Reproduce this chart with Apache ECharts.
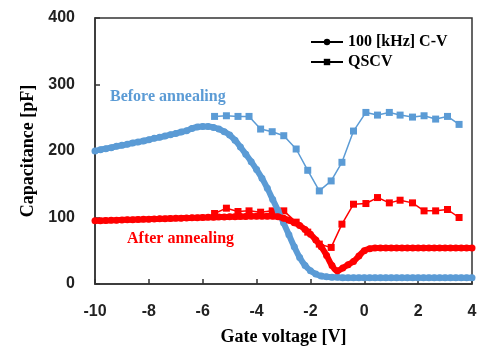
<!DOCTYPE html>
<html>
<head>
<meta charset="utf-8">
<script src="https://cdn.jsdelivr.net/npm/echarts@6/dist/echarts.min.js"></script>
<style>
html, body { margin: 0; padding: 0; background: #fff; }
#chart { width: 482px; height: 351px; }
</style>
</head>
<body>
<div id="chart"></div>
<script>
// gate voltage for the 100 kHz C-V sweep, 0.2 V steps
var cvVoltage = [];
for (var i = 0; i <= 70; i++) cvVoltage.push(+(-10 + i * 0.2).toFixed(1));

var cvBefore = [200, 202, 203.5, 205, 207, 208.5, 210, 212, 213.5, 215,
    217, 219, 220.5, 222.5, 224.5, 226.5, 228.5, 230.5, 234, 236,
    237, 237, 235.5, 233, 229, 224, 216, 206, 195, 184,
    172, 159, 144, 127, 110, 92, 74, 56, 40, 28,
    20, 15, 12, 11, 10, 10, 9.5, 9.5, 9.5, 9.5,
    9.5, 9.5, 9.5, 9.5, 9.5, 9.5, 9.5, 9.5, 9.5, 9.5,
    9.5, 9.5, 9.5, 9.5, 9.5, 9.5, 9.5, 9.5, 9.5, 9.5, 9.5];

var cvAfter = [95, 95.2, 95.5, 95.8, 96, 96.3, 96.6, 96.8, 97, 97.3,
    97.5, 97.8, 98, 98.2, 98.5, 98.7, 99, 99.2, 99.5, 99.7,
    100, 100.2, 100.4, 100.6, 100.8, 101, 101.2, 101.4, 101.6, 101.8,
    102, 102, 102, 102, 101, 99, 96, 92, 88, 82,
    75, 66, 56, 43, 28, 20, 24, 29, 34, 42,
    50, 53, 54, 54, 54, 54, 54, 54, 54, 54,
    54, 54, 54, 54, 54, 54, 54, 54, 54, 54, 54];

// quasi-static C-V points
var qsVoltage = [-5.56, -5.12, -4.69, -4.28, -3.85, -3.42, -2.99, -2.53, -2.1, -1.67, -1.23,
    -0.83, -0.4, 0.06, 0.49, 0.93, 1.33, 1.79, 2.22, 2.65, 3.09, 3.52];
var qsBefore = [252, 253, 252, 252, 233, 229, 223, 203, 171, 140, 155,
    183, 230, 258, 254, 258, 254, 251, 253, 248, 252, 240];
var qsAfter = [106, 114, 109, 110, 108, 110, 110, 93, 78, 60, 55,
    90, 120, 121, 130, 122, 126, 122, 110, 110, 112, 100];

var xTicks = [-10, -8, -6, -4, -2, 0, 2, 4];
var yTicks = [0, 100, 200, 300, 400];

var blue = '#5B9BD5';
var red = '#FF0000';

function pairs(xs, ys) {
    return xs.map(function (x, k) { return [x, ys[k]]; });
}

var myChart = echarts.init(document.getElementById('chart'));

var option = {
    animation: false,
    grid: {
        left: 95,
        right: 10,
        top: 18,
        bottom: 67,
        show: true,
        borderColor: '#333',
        borderWidth: 1.5
    },
    legend: {
        orient: 'vertical',
        left: 305,
        top: 29,
        itemWidth: 32,
        itemHeight: 8,
        itemGap: 4,
        textStyle: {
            fontFamily: 'Liberation Serif',
            fontWeight: 'bold',
            fontSize: 16,
            color: '#000'
        },
        data: ['100 [kHz] C-V', 'QSCV']
    },
    xAxis: {
        type: 'value',
        min: -10,
        max: 4,
        interval: 2,
        splitLine: {show: false},
        axisLine: {onZero: false, lineStyle: {color: '#333', width: 1.5}},
        axisTick: {inside: true, length: 5, lineStyle: {color: '#333', width: 1.5}},
        axisLabel: {
            margin: 20,
            fontFamily: 'Liberation Sans',
            fontWeight: 'bold',
            fontSize: 16,
            color: '#222',
            formatter: function (v) { return xTicks.indexOf(v) >= 0 ? String(v) : ''; }
        },
        name: 'Gate voltage [V]',
        nameLocation: 'middle',
        nameGap: 44,
        nameTextStyle: {
            fontFamily: 'Liberation Serif',
            fontWeight: 'bold',
            fontSize: 18,
            color: '#000'
        }
    },
    yAxis: {
        type: 'value',
        min: 0,
        max: 400,
        interval: 100,
        splitLine: {show: false},
        axisLine: {onZero: false, lineStyle: {color: '#333', width: 1.5}},
        axisTick: {inside: true, length: 5, lineStyle: {color: '#333', width: 1.5}},
        axisLabel: {
            margin: 20,
            fontFamily: 'Liberation Sans',
            fontWeight: 'bold',
            fontSize: 16,
            color: '#222',
            formatter: function (v) { return yTicks.indexOf(v) >= 0 ? String(v) : ''; }
        },
        name: 'Capacitance [pF]',
        nameLocation: 'middle',
        nameGap: 54,
        nameTextStyle: {
            fontFamily: 'Liberation Serif',
            fontWeight: 'bold',
            fontSize: 18,
            color: '#000'
        }
    },
    graphic: [
        {
            type: 'text',
            left: 110,
            top: 89,
            style: {
                text: 'Before annealing',
                fill: blue,
                font: 'bold 16px "Liberation Serif"'
            }
        },
        {
            type: 'text',
            left: 127,
            top: 231,
            style: {
                text: 'After annealing',
                fill: red,
                font: 'bold 16px "Liberation Serif"'
            }
        }
    ],
    series: [
        // black entries only for the legend
        {
            name: '100 [kHz] C-V',
            type: 'line',
            data: [],
            symbol: 'circle',
            symbolSize: 6,
            itemStyle: {color: '#000'},
            lineStyle: {color: '#000', width: 2}
        },
        {
            name: 'QSCV',
            type: 'line',
            data: [],
            symbol: 'rect',
            symbolSize: 7,
            itemStyle: {color: '#000'},
            lineStyle: {color: '#000', width: 2}
        },
        {
            name: 'before C-V',
            type: 'line',
            data: pairs(cvVoltage, cvBefore),
            symbol: 'circle',
            symbolSize: 7,
            showAllSymbol: true,
            smooth: true,
            itemStyle: {color: blue},
            lineStyle: {color: blue, width: 6},
            z: 3
        },
        {
            name: 'after C-V',
            type: 'line',
            data: pairs(cvVoltage, cvAfter),
            symbol: 'circle',
            symbolSize: 7,
            showAllSymbol: true,
            smooth: true,
            itemStyle: {color: red},
            lineStyle: {color: red, width: 6},
            z: 4
        },
        {
            name: 'before QSCV',
            type: 'line',
            data: pairs(qsVoltage, qsBefore),
            symbol: 'rect',
            symbolSize: 7,
            showAllSymbol: true,
            itemStyle: {color: blue},
            lineStyle: {color: blue, width: 1.5},
            z: 2
        },
        {
            name: 'after QSCV',
            type: 'line',
            data: pairs(qsVoltage, qsAfter),
            symbol: 'rect',
            symbolSize: 7,
            showAllSymbol: true,
            itemStyle: {color: red},
            lineStyle: {color: red, width: 1.5},
            z: 2
        }
    ]
};
myChart.setOption(option);
</script>
</body>
</html>
